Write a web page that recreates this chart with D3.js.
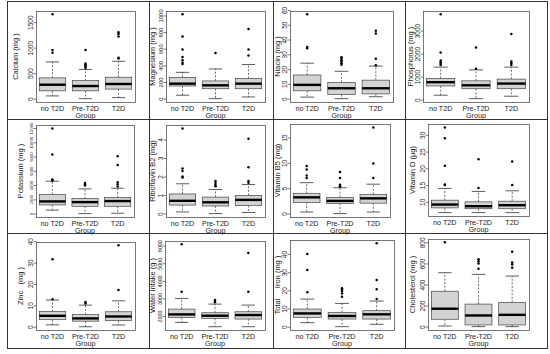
<!DOCTYPE html>
<html><head><meta charset="utf-8">
<script src="https://cdn.jsdelivr.net/npm/d3@7"></script>
<style>
body{margin:0;background:#fff}
svg{display:block}
text{font-family:"Liberation Sans",Arial,Helvetica,sans-serif;fill:#222}
</style>
</head><body>
<svg id="c" width="550" height="354"></svg>
<script>
// ---------- data ----------
const groups = ["no T2D", "Pre-T2D", "T2D"];
const yTitles = ["Calcium (mg )", "Magnesium (mg )", "Niacin (mg )", "Phosphorus (mg )",
  "Potassium (mg )", "Riboflavin B2 (mg)", "Vitamin B5 (mg)", "Vitamin D (\u00b5g)",
  "Zinc   (mg )", "Water intake (g )", "Total     Iron (mg )", "Cholesterol (mg )"];
const yTicks = [
  [0, 500, 1000, 1500], [0, 200, 400, 600, 800, 1000], [0, 10, 20, 30, 40, 50, 60], [0, 1000, 2000, 3000],
  [0, 2000, 4000, 6000, 8000, 10000, 12000], [0, 1, 2, 3, 4], [0, 5, 10, 15], [10, 15, 20, 25, 30],
  [0, 10, 20, 30, 40], [2000, 3000, 4000, 5000, 6000], [0, 10, 20, 30, 40], [0, 200, 400, 600, 800]
];
// box stats per group: [lower whisker, Q1, median, Q3, upper whisker]
const calcium     = [[53, 153, 273, 407, 720], [0, 153, 247, 353, 573], [20, 187, 287, 420, 733]];
const calciumOut  = [[1653, 953, 900], [953, 690, 665, 645, 625, 600], [1300, 1267, 1220, 800, 787]];
const magnesium   = [[41, 152, 180, 254, 316], [0, 119, 160, 213, 357], [20, 119, 180, 242, 410]];
const magnesiumOut= [[1013, 746, 590, 500, 460, 430, 415], [549], [836, 590, 520]];
const niacin      = [[1, 5.3, 9.3, 16, 24], [0, 2.7, 7, 11, 18.5], [1.3, 3.2, 7, 12.5, 22]];
const niacinOut   = [[57, 35, 34], [28, 27, 26, 25, 24, 23], [46, 44, 27, 22.5]];
const phosphorus  = [[193, 594, 758, 921, 1412], [45, 475, 624, 817, 1293], [150, 475, 698, 892, 1412]];
const phosphorusOut=[[3700, 2050, 1700, 1620, 1560, 1500], [2260, 1340], [2850, 1660, 1580, 1500]];
const potassium   = [[488, 1220, 1708, 2684, 4540], [0, 1025, 1610, 2100, 3465], [50, 1025, 1757, 2245, 3560]];
const potassiumOut= [[11950, 8300, 4780, 4640], [4300, 4100, 3950], [8050, 6830, 4400, 4100, 3800]];
const riboflavin  = [[0.09, 0.46, 0.69, 1.06, 1.61], [0, 0.41, 0.61, 0.89, 1.3], [0.06, 0.44, 0.74, 0.98, 1.57]];
const riboflavinOut=[[4.6, 2.44, 2.3, 2.0, 1.95], [1.76, 1.65, 1.55, 1.48], [4.04, 2.5, 1.76, 1.67]];
const vitaminB5   = [[0.3, 2.2, 3.2, 4.0, 6.1], [0, 2.0, 2.5, 3.2, 5.1], [0.3, 2.05, 3.0, 3.8, 5.8]];
const vitaminB5Out= [[9.4, 8.7, 7.5, 7.0], [8.2, 7.0, 5.7, 5.4, 5.3], [17, 9.9, 7.0]];
const vitaminD    = [[6.8, 8.2, 9.2, 10.5, 14.0], [6.8, 7.95, 8.7, 10.0, 13.1], [6.8, 7.95, 9.0, 10.2, 13.3]];
const vitaminDOut = [[32.2, 29, 20.8, 15.2, 15.0], [22.7, 14.1], [22, 15]];
const zinc        = [[0.9, 3.3, 5.1, 7.1, 12.5], [0, 2.6, 3.9, 5.7, 10.1], [0.8, 2.9, 4.8, 7.0, 12.1]];
const zincOut     = [[31.5, 12.9], [11.6, 10.9], [38.1, 17.2]];
const water       = [[1640, 1925, 2094, 2396, 3000], [1396, 1868, 2019, 2189, 2680], [1396, 1830, 2057, 2245, 2623]];
const waterOut    = [[6076, 3378], [2906, 2850, 2780], [5585, 3378]];
const iron        = [[2.2, 5.1, 7.3, 9.7, 15.2], [0, 4.2, 5.9, 7.9, 12.8], [1.3, 4.2, 6.8, 8.8, 14.1]];
const ironOut     = [[40, 31.2, 18.9], [21.1, 20.4, 19.7, 18.3, 16.5], [45.9, 25.7, 20.6, 15.2]];
const cholesterol = [[6, 70, 170, 336, 512], [0, 16, 106, 214, 496], [0, 16, 112, 230, 480]];
const cholesterolOut=[[800], [640, 620, 600, 550], [710, 608, 590, 560]];

const stats = [calcium, magnesium, niacin, phosphorus, potassium, riboflavin, vitaminB5, vitaminD, zinc, water, iron, cholesterol];
const outs = [calciumOut, magnesiumOut, niacinOut, phosphorusOut, potassiumOut, riboflavinOut, vitaminB5Out, vitaminDOut, zincOut, waterOut, ironOut, cholesterolOut];

// ---------- layout ----------
const plotRects = [
  [36, 135, 11, 102], [166, 265, 11, 102], [290, 393, 11, 102], [423, 529, 11, 102],
  [36, 134, 125, 217], [166, 265, 125, 217], [290, 390, 124, 217], [428, 529, 124, 216],
  [36, 135, 242, 330], [165, 265, 241, 330], [290, 394, 240, 330], [428, 529, 239, 330]
];
const titleX = [15, 152, 277, 409.5, 20, 152, 277, 412, 20, 152, 277, 412];
const tickFont = [6.5, 6, 6.5, 6.5, 4.3, 6.5, 6.5, 6.5, 6.5, 5.3, 6.5, 6.5];

const svg = d3.select("#c");
svg.append("rect").attr("width", 550).attr("height", 354).attr("fill", "#fff");

// panel grid lines
const frame = svg.append("g").attr("stroke", "#333").attr("stroke-width", 1).attr("fill", "none");
frame.append("rect").attr("x", 7.5).attr("y", 1.5).attr("width", 540).attr("height", 347);
[149.5, 273.5, 405.5].forEach(v => frame.append("line").attr("x1", v).attr("x2", v).attr("y1", 1.5).attr("y2", 348.5));
[119.5, 233.5].forEach(v => frame.append("line").attr("x1", 7.5).attr("x2", 547.5).attr("y1", v).attr("y2", v));

stats.forEach((st, i) => {
  const [L, R, T, B] = plotRects[i];
  const vals = st.flat().concat(outs[i].flat());
  const lo = d3.min(vals), hi = d3.max(vals), pad = (hi - lo) * 0.04;
  const y = d3.scaleLinear().domain([lo - pad, hi + pad]).range([B, T]);
  const x = d3.scaleLinear().domain([0.5, 3.5]).range([L, R]);
  const bw = x(1.4) - x(1);   // box half width
  const sw = bw * 0.5;        // staple half width
  const g = svg.append("g");

  const grp = g.selectAll("g.grp").data(st).join("g").attr("class", "grp");
  // whiskers (dashed)
  grp.append("line").attr("x1", (d, k) => x(k + 1)).attr("x2", (d, k) => x(k + 1))
    .attr("y1", d => y(d[3])).attr("y2", d => y(d[4]))
    .attr("stroke", "#333").attr("stroke-width", 0.7).attr("stroke-dasharray", "2,1.6");
  grp.append("line").attr("x1", (d, k) => x(k + 1)).attr("x2", (d, k) => x(k + 1))
    .attr("y1", d => y(d[1])).attr("y2", d => y(d[0]))
    .attr("stroke", "#333").attr("stroke-width", 0.7).attr("stroke-dasharray", "2,1.6");
  // staples
  [0, 4].forEach(j => grp.append("line")
    .attr("x1", (d, k) => x(k + 1) - sw).attr("x2", (d, k) => x(k + 1) + sw)
    .attr("y1", d => y(d[j])).attr("y2", d => y(d[j]))
    .attr("stroke", "#333").attr("stroke-width", 0.8));
  // boxes
  grp.append("rect").attr("x", (d, k) => x(k + 1) - bw).attr("width", 2 * bw)
    .attr("y", d => y(d[3])).attr("height", d => y(d[1]) - y(d[3]))
    .attr("fill", "#d3d3d3").attr("stroke", "#444").attr("stroke-width", 0.7);
  // medians
  grp.append("line").attr("x1", (d, k) => x(k + 1) - bw).attr("x2", (d, k) => x(k + 1) + bw)
    .attr("y1", d => y(d[2])).attr("y2", d => y(d[2]))
    .attr("stroke", "#000").attr("stroke-width", 2.4);
  // outliers
  const od = outs[i].flatMap((arr, k) => arr.map(v => ({ k, v })));
  g.selectAll("circle").data(od).join("circle")
    .attr("cx", d => x(d.k + 1)).attr("cy", d => y(d.v)).attr("r", 1.25).attr("fill", "#000");

  // plot frame
  g.append("rect").attr("x", L + 0.5).attr("y", T + 0.5).attr("width", R - L).attr("height", B - T)
    .attr("fill", "none").attr("stroke", "#555").attr("stroke-width", 0.8);

  // y axis
  const ax = g.append("g").attr("transform", `translate(${L + 0.5},0)`)
    .call(d3.axisLeft(y).tickValues(yTicks[i]).tickSize(3).tickSizeOuter(0).tickFormat(d3.format("d")));
  ax.select(".domain").remove();
  ax.selectAll("line").attr("stroke", "#444").attr("stroke-width", 0.7);
  ax.selectAll("text").attr("transform", "rotate(-90)").attr("x", 0).attr("y", -4).attr("dy", 0)
    .style("text-anchor", "middle").style("font-size", tickFont[i] + "px").attr("fill", "#222");

  // x labels
  g.selectAll("text.xl").data(groups).join("text").attr("class", "xl")
    .attr("x", (d, k) => x(k + 1)).attr("y", B + 8.5).attr("text-anchor", "middle")
    .style("font-size", "7.2px").text(d => d);
  g.append("text").attr("x", (L + R) / 2).attr("y", B + 16).attr("text-anchor", "middle")
    .style("font-size", "7.2px").text("Group");

  // y title
  g.append("text").attr("transform", `translate(${titleX[i] + 3},${(T + B) / 2}) rotate(-90)`)
    .attr("text-anchor", "middle").style("font-size", "7.5px").style("white-space", "pre")
    .text(yTitles[i]);
});
</script>
</body></html>
